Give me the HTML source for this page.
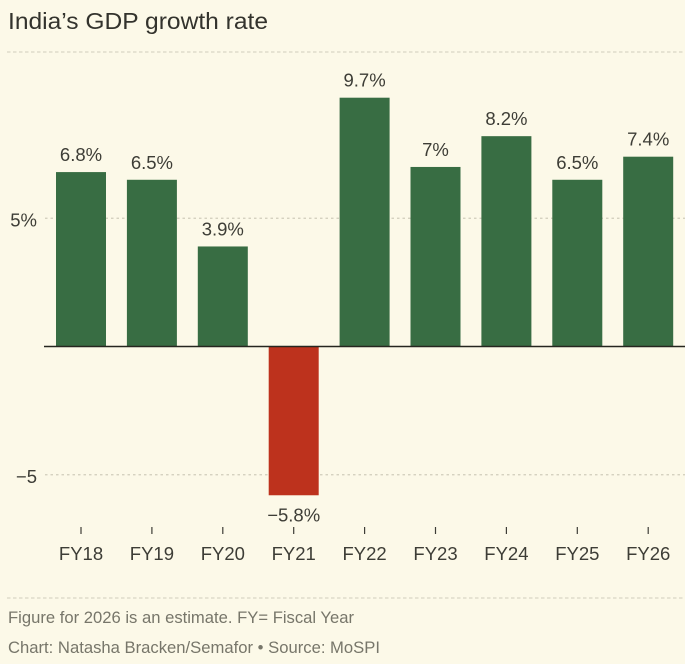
<!DOCTYPE html>
<html lang="en">
<head>
<meta charset="utf-8">
<title>India's GDP growth rate</title>
<style>
html,body{margin:0;padding:0;background:#fcf9e8;}
body{width:685px;height:664px;overflow:hidden;}
svg{display:block;font-family:"Liberation Sans",sans-serif;}
</style>
</head>
<body>
<svg id="chart" width="685" height="664" viewBox="0 0 685 664" xmlns="http://www.w3.org/2000/svg">
<rect x="0" y="0" width="685" height="664" fill="#fcf9e8"/>
<text x="8" y="29" font-size="23.5" fill="#33332d" textLength="260" lengthAdjust="spacingAndGlyphs">India’s GDP growth rate</text>
<line x1="7" x2="685" y1="52" y2="52" stroke="#d9d6c4" stroke-width="1.2" stroke-dasharray="3.5 2.5"/>
<g id="grid"></g>
<g id="bars"></g>
<line id="zero" x1="44" x2="685" stroke="#26261f" stroke-width="1.6"/>
<g id="labels"></g>
<g id="xaxis"></g>
<line x1="7" x2="685" y1="598" y2="598" stroke="#d9d6c4" stroke-width="1.2" stroke-dasharray="3.5 2.5"/>
<text x="8" y="623" font-size="16.5" fill="#77766a" textLength="346" lengthAdjust="spacingAndGlyphs">Figure for 2026 is an estimate. FY= Fiscal Year</text>
<text x="8" y="653" font-size="16.5" fill="#77766a" textLength="372" lengthAdjust="spacingAndGlyphs">Chart: Natasha Bracken/Semafor • Source: MoSPI</text>
</svg>
<script>
var categories = ['FY18','FY19','FY20','FY21','FY22','FY23','FY24','FY25','FY26'];
var growthValues = [6.8,6.5,3.9,-5.8,9.7,7,8.2,6.5,7.4];
var printedValues = ['6.8%','6.5%','3.9%','−5.8%','9.7%','7%','8.2%','6.5%','7.4%'];
var yTicks = [5,-5];
var yTickLabels = ['5%','−5'];

var NS = 'http://www.w3.org/2000/svg';
function y(v){ return 346.5 - v * 25.65; }
function x(i){ return 81 + i * 70.9; }
var BAR_W = 50;

function make(tag, attrs, parent, content){
  var el = document.createElementNS(NS, tag);
  for (var k in attrs) el.setAttribute(k, attrs[k]);
  if (content !== undefined) el.textContent = content;
  parent.appendChild(el);
  return el;
}

var grid = document.getElementById('grid');
yTicks.forEach(function(t, i){
  var line = make('line', {x1:45, x2:685, y1:y(t), y2:y(t), stroke:'#cfccba', 'stroke-width':1.2, 'stroke-dasharray':'2.5 3'}, grid);
  
  
  var lab = make('text', {x:37, y:y(t)+8, 'text-anchor':'end', 'font-size':18.5, fill:'#3d3d36'}, grid, yTickLabels[i]);
  
  
});

var barsG = document.getElementById('bars');
var labelsG = document.getElementById('labels');
var axisG = document.getElementById('xaxis');
categories.forEach(function(c, i){
  var v = growthValues[i];
  var top = Math.min(y(v), y(0));
  var h = Math.abs(y(v) - y(0));
  var bar = make('rect', {x:x(i)-BAR_W/2, y:top, width:BAR_W, height:h, fill: v < 0 ? '#bd321d' : '#386d43'}, barsG);
  
  

  var ly = v < 0 ? y(v) + 26 : y(v) - 11;
  var val = make('text', {x:x(i), y:ly, 'text-anchor':'middle', 'font-size':18.5, fill:'#3d3d36'}, labelsG, printedValues[i]);
  
  

  var tick = make('line', {x1:x(i), x2:x(i), y1:527, y2:534, stroke:'#3d3d36', 'stroke-width':1.2}, axisG);
  
  

  var cat = make('text', {x:x(i), y:560, 'text-anchor':'middle', 'font-size':18.5, fill:'#3d3d36'}, axisG, c);
  
  
});
document.getElementById('zero').setAttribute('y1', y(0));
document.getElementById('zero').setAttribute('y2', y(0));
</script>
</body>
</html>
